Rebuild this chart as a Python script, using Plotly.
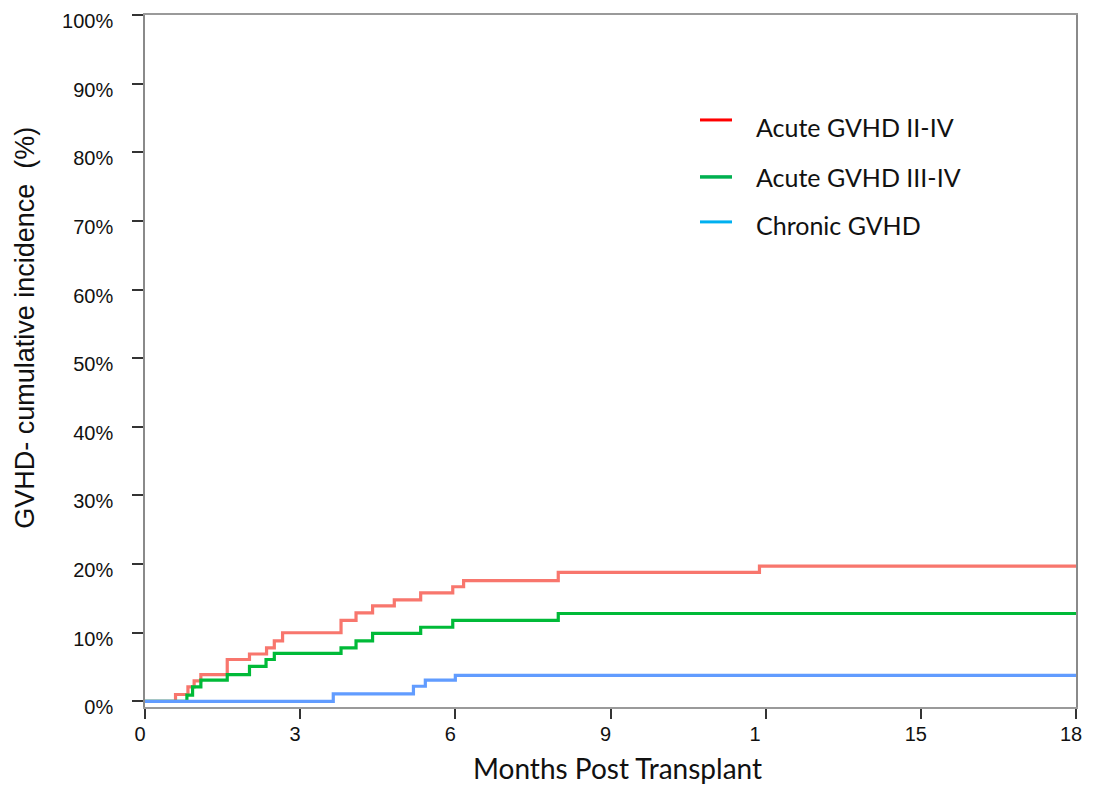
import plotly.graph_objects as go

# ---- data (months, cumulative incidence %) ----
acute24_months = [0, 0.59, 0.83, 0.95, 1.08, 1.59, 2.02, 2.35, 2.50, 2.66, 3.79, 4.08, 4.40, 4.82, 5.33, 5.95, 6.16, 7.99, 11.88, 18]
acute24_values = [0, 1.0, 2.1, 3.0, 3.9, 6.1, 6.9, 7.8, 8.8, 10.0, 11.8, 12.9, 13.9, 14.8, 15.8, 16.7, 17.6, 18.8, 19.7, 19.7]

acute34_months = [0, 0.81, 0.92, 1.08, 1.59, 2.02, 2.34, 2.50, 3.79, 4.08, 4.40, 5.33, 5.95, 7.99, 18]
acute34_values = [0, 0.9, 2.1, 3.1, 3.9, 5.1, 6.1, 7.0, 7.8, 8.8, 9.9, 10.8, 11.8, 12.8, 12.8]

chronic_months = [0, 3.64, 5.19, 5.42, 6.00, 18]
chronic_values = [0, 1.1, 2.2, 3.1, 3.8, 3.8]

x_tick_vals = [0, 3, 6, 9, 12, 15, 18]
x_tick_text = ["0", "3", "6", "9", "1\u2007", "15", "18"]
y_tick_vals = [0, 10, 20, 30, 40, 50, 60, 70, 80, 90, 100]
y_tick_text = ["0%", "10%", "20%", "30%", "40%", "50%", "60%", "70%", "80%", "90%", "100%"]

legend_names = ["Acute GVHD II-IV", "Acute GVHD III-IV", "Chronic GVHD"]
legend_colors = ["#FF0000", "#00B050", "#00B0F0"]

curve_colors = ["#F8766D", "#00BA38", "#619CFF"]

W, H = 1095, 789
PL, PR, PT, PB = 145, 1076, 15, 707.3   # plot area in pixels


def px_x(p):
    return (p - PL) / (PR - PL)


def px_y(p):
    return (PB - p) / (PB - PT)


fig = go.Figure()
for xs, ys, col, name in [
    (acute24_months, acute24_values, curve_colors[0], legend_names[0]),
    (acute34_months, acute34_values, curve_colors[1], legend_names[1]),
    (chronic_months, chronic_values, curve_colors[2], legend_names[2]),
]:
    fig.add_trace(go.Scatter(x=xs, y=ys, mode="lines", line=dict(shape="hv", color=col, width=3.2),
                             name=name, showlegend=False, hoverinfo="skip"))

# legend drawn as in the original (its own colours)
leg_y = [120, 177, 222]
txt_y = [127, 177, 225]
for i, (nm, col) in enumerate(zip(legend_names, legend_colors)):
    fig.add_shape(type="line", xref="paper", yref="paper",
                  x0=px_x(700), x1=px_x(732), y0=px_y(leg_y[i]), y1=px_y(leg_y[i]),
                  line=dict(color=col, width=3.5 if i == 1 else 3))
    fig.add_annotation(xref="paper", yref="paper", x=px_x(754), y=px_y(txt_y[i]),
                       xanchor="left", yanchor="middle", text=nm, showarrow=False,
                       font=dict(family="Lato, Open Sans, sans-serif", size=25, color="#111111"))

# axis titles
fig.add_annotation(xref="paper", yref="paper", x=px_x(25), y=px_y(328),
                   xanchor="center", yanchor="middle", textangle=-90, showarrow=False,
                   text="GVHD- cumulative incidence  (%)",
                   font=dict(family="Liberation Sans, Arial, sans-serif", size=27, color="#111111"))
fig.add_annotation(xref="paper", yref="paper", x=px_x(617), y=px_y(768),
                   xanchor="center", yanchor="middle", showarrow=False,
                   text="Months Post Transplant",
                   font=dict(family="Lato, Open Sans, sans-serif", size=28, color="#111111"))

fig.update_layout(
    width=W, height=H,
    margin=dict(l=PL, r=W - PR, t=PT, b=H - PB, autoexpand=False),
    plot_bgcolor="white", paper_bgcolor="white",
    showlegend=False,
    xaxis=dict(range=[0, 18], tickmode="array", tickvals=x_tick_vals, ticktext=x_tick_text,
               automargin=False,
               showgrid=False, zeroline=False, showline=True, linecolor="#9a9a9a", linewidth=2,
               mirror=True, ticks="outside", ticklen=10, tickwidth=1.5, tickcolor="#333333",
               tickfont=dict(family="Liberation Sans, Arial, sans-serif", size=20, color="#111111"),
               ticklabelstandoff=-2, ticklabelshift=-5),
    yaxis=dict(range=[-0.82, 100], tickmode="array", tickvals=y_tick_vals, ticktext=y_tick_text,
               automargin=False,
               showgrid=False, zeroline=False, showline=True, linecolor="#8a8a8a", linewidth=1.5,
               mirror=True, ticks="outside", ticklen=11, tickwidth=1.5, tickcolor="#333333",
               tickfont=dict(family="Liberation Sans, Arial, sans-serif", size=20, color="#111111"),
               ticklabelstandoff=15, ticklabelshift=6),
)

fig.write_html("out.html")
